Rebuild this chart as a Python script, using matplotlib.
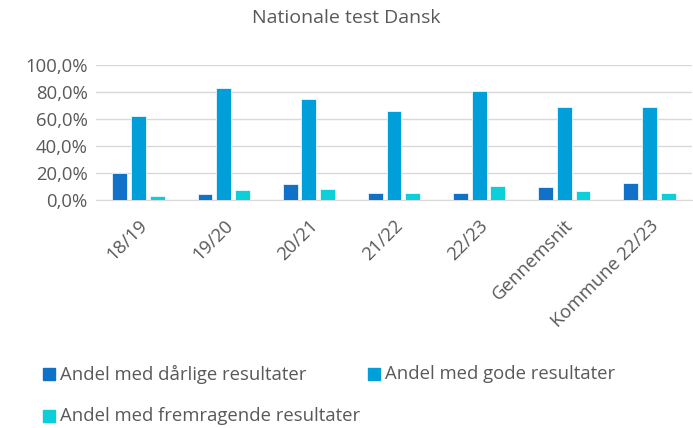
import matplotlib
matplotlib.use("Agg")
import matplotlib.pyplot as plt
import numpy as np
from matplotlib.ticker import FuncFormatter

categories = ["18/19", "19/20", "20/21", "21/22", "22/23", "Gennemsnit", "Kommune 22/23"]
series_names = ["Andel med dårlige resultater", "Andel med gode resultater", "Andel med fremragende resultater"]
darlige = [20.2, 4.7, 11.9, 5.0, 5.4, 9.9, 12.8]
gode = [62.2, 83.0, 74.6, 66.2, 80.5, 69.1, 68.9]
fremragende = [3.0, 7.7, 8.4, 5.0, 10.6, 6.9, 4.9]
colors = ["#1170C8", "#009FD9", "#0DCFDA"]

plt.rcParams['font.family'] = ['Open Sans', 'DejaVu Sans']
fig = plt.figure(figsize=(6.93, 4.28), dpi=100)
ax = fig.add_axes([96/693, 1-200/428, (692-96)/693, 135/428])

x = np.arange(len(categories))
w = 0.175
off = 0.22
for i, (vals, c, name) in enumerate(zip([darlige, gode, fremragende], colors, series_names)):
    ax.bar(x + (i-1)*off, vals, width=w, color=c, label=name, edgecolor="white", linewidth=0.5, zorder=3)

ax.set_xlim(-0.5, len(categories)-0.5)
ax.set_ylim(0, 100)
ax.set_yticks(np.arange(0, 101, 20))
ax.yaxis.set_major_formatter(FuncFormatter(lambda v, p: f"{v:.1f}%".replace(".", ",")))
ax.grid(axis="y", color="#D9D9D9", linewidth=1, zorder=0)
for s in ["top", "right", "left"]:
    ax.spines[s].set_visible(False)
ax.spines["bottom"].set_color("#D9D9D9")
ax.tick_params(axis="both", length=0, colors="#595959", labelsize=13.3)
ax.tick_params(axis="y", pad=6)
ax.set_xticks(x)
ax.set_xticklabels(categories, rotation=45, ha="right", rotation_mode="anchor")
ax.tick_params(axis="x", pad=12)

fig.text(0.5, 1-18/428, "Nationale test Dansk", ha="center", va="center", fontsize=14, color="#595959")

pos = [(43, 374), (368, 374), (43, 416)]
for (px, py), c, name in zip(pos, colors, series_names):
    fig.patches.append(plt.Rectangle((px/693, 1-(py+6)/428), 12/693, 12/428, color=c,
                                     transform=fig.transFigure, figure=fig))
    fig.text((px+17)/693, 1-py/428, name, ha="left", va="center", fontsize=13.3, color="#595959")

fig.savefig("out.png", dpi=100)
